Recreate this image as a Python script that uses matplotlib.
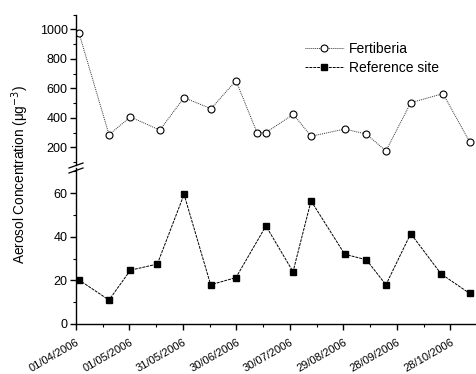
import matplotlib
matplotlib.use("Agg")
import matplotlib.pyplot as plt
from matplotlib.ticker import MultipleLocator

plt.rcParams['font.family'] = ['Liberation Sans', 'DejaVu Sans']

# days since 01/04/2006
fert_days = [1.7, 18.5, 30.5, 47, 60.6, 75.7, 89.7, 101.5, 106.5, 121.9, 131.8,
             150.7, 162.8, 173.8, 187.7, 205.8, 220.8]
fert_vals = [975, 286, 406, 317, 537, 462, 652, 300, 300, 424, 275,
             324, 290, 175, 503, 564, 236]

ref_days = [1.5, 18.5, 30.5, 45.6, 60.6, 75.5, 89.7, 106.5, 121.7, 131.8,
            150.7, 162.8, 173.8, 187.7, 204.7, 220.8]
ref_vals = [20.3, 11, 24.7, 27.5, 59.5, 18, 21.3, 45, 24, 56.5,
            32, 29.5, 18, 41.5, 23, 14]

tick_days = [0, 30, 60, 90, 120, 150, 180, 210]
tick_labels = ['01/04/2006', '01/05/2006', '31/05/2006', '30/06/2006',
               '30/07/2006', '29/08/2006', '28/09/2006', '28/10/2006']

W, H = 476, 374
fig = plt.figure(figsize=(W/100, H/100), dpi=100)
L = 76/W
ax_top = fig.add_axes([L, 1-165/H, 1-L, (165-14.7)/H])
ax_bot = fig.add_axes([L, 1-324/H, 1-L, (324-168)/H])

xlim = (0, 224.3)
for ax in (ax_top, ax_bot):
    ax.set_xlim(*xlim)
    for s in ('top', 'right'):
        ax.spines[s].set_visible(False)
    ax.spines['left'].set_linewidth(1.0)
    ax.spines['bottom'].set_linewidth(1.0)
    ax.tick_params(axis='both', which='major', length=4, width=1.0, labelsize=9, pad=2)
    ax.tick_params(axis='both', which='minor', length=2.5, width=0.8)

ax_top.spines['bottom'].set_visible(False)
ax_top.set_xticks([])
ax_top.tick_params(axis='x', which='both', bottom=False, labelbottom=False)

ax_top.plot(fert_days, fert_vals, linestyle=(0, (1, 1)), color='#333333', lw=0.7,
            marker='o', markersize=5, markerfacecolor='white',
            markeredgecolor='black', markeredgewidth=0.8, label='Fertiberia')
ax_top.plot([], [], linestyle=(0, (3, 1)), color='black', lw=0.7,
            marker='s', markersize=5, markerfacecolor='black',
            markeredgecolor='black', label='Reference site')
ax_top.set_ylim(80, 1100)
ax_top.set_yticks([200, 400, 600, 800, 1000])
ax_top.yaxis.set_minor_locator(MultipleLocator(100))

ax_bot.plot(ref_days, ref_vals, linestyle=(0, (3, 1)), color='black', lw=0.7,
            marker='s', markersize=5, markerfacecolor='black',
            markeredgecolor='black')
ax_bot.set_ylim(0, 71.6)
ax_bot.set_yticks([0, 20, 40, 60])
ax_bot.yaxis.set_minor_locator(MultipleLocator(10))
ax_bot.set_xticks(tick_days)
ax_bot.set_xticklabels(tick_labels, rotation=30, ha='right', va='top',
                       rotation_mode='anchor', fontsize=8)
ax_bot.tick_params(axis='x', which='major', pad=5.5)
ax_bot.xaxis.set_minor_locator(MultipleLocator(15))

leg = ax_top.legend(loc='upper left', bbox_to_anchor=((305-76)/(W-76), (165-42)/(165-14.7)),
                    frameon=False, fontsize=10, handlelength=2.8, handletextpad=0.35,
                    labelspacing=0.35, borderaxespad=0, borderpad=0)

# break marks
for yy in (165.5, 170.5):
    fig.add_artist(plt.Line2D([L-7/W, L+7/W], [1-(yy+2.5)/H, 1-(yy-2.5)/H],
                              color='black', lw=0.9))

fig.text(20/W, 1-175/H, 'Aerosol Concentration (μg$^{-3}$)', rotation=90,
         ha='center', va='center', fontsize=9.8)

fig.savefig('out.png', dpi=100)
